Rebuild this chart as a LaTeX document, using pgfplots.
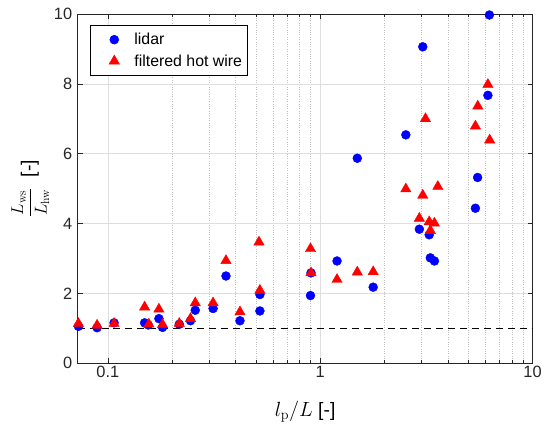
\documentclass[border=0pt]{standalone}
\usepackage[no-math]{fontspec}
\setmainfont{Liberation Sans}
\usepackage{pgfplots}
\pgfplotsset{compat=1.18}
\definecolor{gridmaj}{RGB}{222,222,222}
\definecolor{gridmin}{RGB}{190,190,190}
\definecolor{axgray}{RGB}{38,38,38}
\begin{document}
\begin{tikzpicture}
\begin{axis}[
  scale only axis,
  width=457bp, height=351bp,
  xmode=log,
  xmin=0.0721, xmax=10,
  ymin=0, ymax=10,
  xtick={0.1,1,10},
  xticklabels={0.1,1,10},
  ytick={0,2,4,6,8,10},
  /pgf/number format/assume math mode=true,
  tick label style={font=\fontsize{16.5}{18}\selectfont, color=axgray},
  xticklabel style={yshift=1bp},
  yticklabel style={xshift=-2bp},
  tick align=inside,
  major tick length=5bp,
  minor tick length=3bp,
  tick style={axgray, line width=0.5pt},
  axis line style={axgray, line width=0.6pt},
  xmajorgrids, ymajorgrids, xminorgrids,
  major grid style={gridmaj, line width=0.6pt},
  minor grid style={gridmin, dotted, line width=0.5pt},
  xlabel={$l_\mathrm{p}/L$ [-]},
  ylabel={{\fontsize{17}{20}\selectfont$\displaystyle\frac{L_\mathrm{ws}}{L_\mathrm{hw}}$}\ \ [-]},
  label style={font=\fontsize{19.5}{22}\selectfont},
  xlabel style={yshift=-17bp},
  ylabel style={yshift=-2bp},
  legend style={at={(axis description cs:0.028,0.967)}, anchor=north west,
    font=\fontsize{16}{19}\selectfont, draw=black, line width=0.5pt,
    inner xsep=3bp, inner ysep=5.5bp, row sep=4.5bp, cells={anchor=west}},
  legend cell align=left,
  legend image code/.code={%
    \node[inner sep=0pt, minimum width=39bp, minimum height=1bp, anchor=west] at (0bp,0bp) {};
    \draw[#1] plot[only marks] coordinates {(21bp,0bp)};},
  clip=false,
]
\path (axis description cs:-0.1707,-0.1652) rectangle (axis description cs:1.0219,1.0399);
\addplot[black, dashed, line width=0.5pt, dash pattern=on 7bp off 5bp, forget plot] coordinates {(0.0721,1) (10,1)};
\addplot[only marks, mark=*, mark size=4.5bp, draw=blue, fill=blue] coordinates {
(0.0727,1.06) (0.089,1.02) (0.107,1.16) (0.149,1.16) (0.155,1.10) (0.174,1.28)
(0.181,1.03) (0.217,1.12) (0.245,1.22) (0.258,1.52) (0.313,1.57) (0.36,2.50)
(0.419,1.22) (0.52,1.97) (0.52,1.50) (0.905,2.59) (0.9,1.94) (1.2,2.93)
(1.495,5.87) (1.776,2.18) (2.53,6.54) (2.93,3.84) (3.04,9.06) (3.26,3.68)
(3.3,3.02) (3.45,2.93) (5.38,4.44) (5.51,5.32) (6.16,7.67) (6.26,9.97)
};
\addlegendentry{lidar}
\addplot[only marks, mark=triangle*, mark size=6bp, draw=red, fill=red] coordinates {
(0.0727,1.14) (0.089,1.09) (0.107,1.14) (0.149,1.61) (0.156,1.12) (0.174,1.55)
(0.181,1.11) (0.217,1.14) (0.245,1.28) (0.258,1.73) (0.313,1.73) (0.36,2.94)
(0.419,1.47) (0.515,3.47) (0.52,2.09) (0.9,3.28) (0.905,2.59) (1.2,2.40)
(1.495,2.61) (1.776,2.62) (2.53,4.99) (2.93,4.15) (3.04,4.81) (3.13,7.00)
(3.26,4.05) (3.3,3.80) (3.45,4.01) (3.58,5.06) (5.38,6.79) (5.52,7.36)
(6.16,7.98) (6.28,6.39)
};
\addlegendentry{filtered hot wire}
\end{axis}
\end{tikzpicture}
\end{document}
